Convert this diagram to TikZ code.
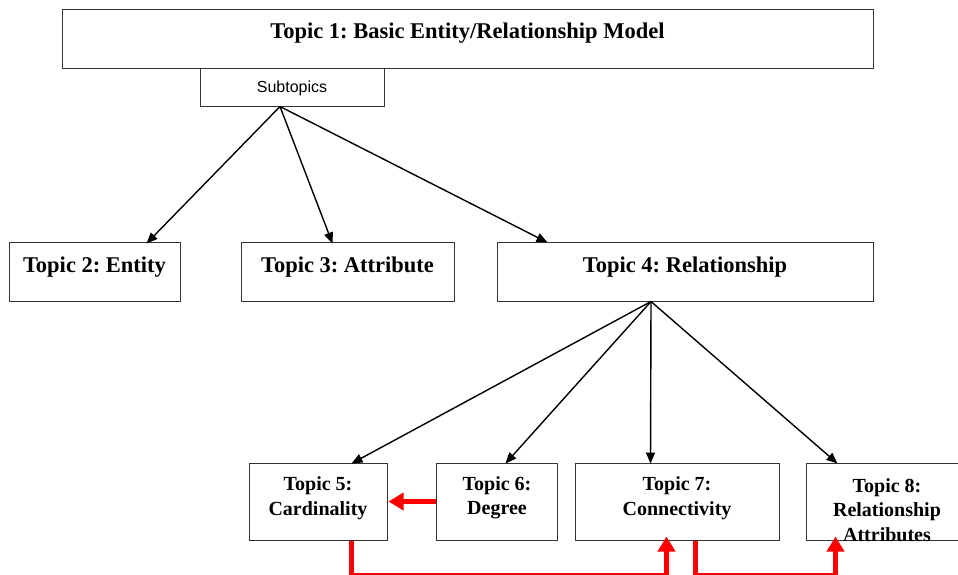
\documentclass[tikz,border=0pt]{standalone}
\usepackage{fontspec}
\setmainfont{Liberation Serif}
\setsansfont{Liberation Sans}
\usetikzlibrary{arrows.meta}
\frenchspacing
\begin{document}
\begin{tikzpicture}[x=1pt,y=-1pt,
  box/.style={draw=black!80,line width=1pt,rectangle,inner sep=0pt},
  big/.style={font=\fontsize{22.5}{26}\selectfont\bfseries,inner sep=0pt,align=center},
  small/.style={font=\fontsize{20}{24.5}\selectfont\bfseries,inner sep=0pt,align=center},
  link/.style={line width=1.4pt,-{Triangle[length=11pt,width=9pt]}},
  redlink/.style={draw=red,line width=5pt,-{Triangle[length=15pt,width=17pt]}}]
\useasboundingbox (0,0) rectangle (958,574);
\fill[white] (0,0) rectangle (958,574);

% boxes
\node[box,minimum width=811pt,minimum height=59pt] (t1) at (467.5,38.5) {};
\node[box,minimum width=184pt,minimum height=38pt,fill=white] (sub) at (292,87) {};
\node[box,minimum width=171pt,minimum height=59pt] (t2) at (94.5,271.5) {};
\node[box,minimum width=213pt,minimum height=59pt] (t3) at (347.5,271.5) {};
\node[box,minimum width=376pt,minimum height=59pt] (t4) at (685,271.5) {};
\node[box,minimum width=138pt,minimum height=77pt] (t5) at (318,501.5) {};
\node[box,minimum width=121pt,minimum height=77pt] (t6) at (496.5,501.5) {};
\node[box,minimum width=204pt,minimum height=77pt] (t7) at (677,501.5) {};
\node[box,minimum width=162pt,minimum height=77pt] (t8) at (887,501.5) {};

% labels
\node[big] (t1txt) at (467.5,33.5) {Topic 1: Basic Entity/Relationship Model};
\node[font=\sffamily\fontsize{16}{19}\selectfont,inner sep=0pt] (subtxt) at (292,88) {Subtopics};
\node[big] (t2txt) at (94.5,267) {Topic 2: Entity};
\node[big] (t3txt) at (347.5,267) {Topic 3: Attribute};
\node[big] (t4txt) at (685,267) {Topic 4: Relationship};
\node[small] (t5txt) at (318,498) {Topic 5:\\Cardinality};
\node[small] (t6txt) at (497,498) {Topic 6:\\Degree};
\node[small] (t7txt) at (677,498) {Topic 7:\\Connectivity};
\node[small] (t8txt) at (887,510) {Topic 8:\\Relationship\\Attributes};

% hierarchy arrows
\draw[link] ([xshift=-12pt]sub.south) -- ([xshift=52pt,yshift=-2pt]t2.north);
\draw[link] ([xshift=-12pt]sub.south) -- ([xshift=-15pt,yshift=-2pt]t3.north);
\draw[link] ([xshift=-12pt]sub.south) -- ([xshift=51pt,yshift=-1pt]t4.north west);
\draw[link] ([xshift=-34pt]t4.south) -- ([xshift=103pt,yshift=-1pt]t5.north west);
\draw[link] ([xshift=-34pt]t4.south) -- ([xshift=70pt,yshift=-1pt]t6.north west);
\draw[link] ([xshift=-34pt]t4.south) -- ([xshift=76pt,yshift=-1pt]t7.north west);
\draw[link] ([xshift=-34pt]t4.south) -- ([xshift=32pt,yshift=-1pt]t8.north west);

% dependency arrows along the bottom rail
\coordinate (rail) at (0,575);
\coordinate (a5) at ([xshift=103pt]t5.south west);
\coordinate (b7) at ([xshift=92pt,yshift=4pt]t7.south west);
\coordinate (a7) at ([xshift=121pt]t7.south west);
\coordinate (b8) at ([xshift=30pt,yshift=4pt]t8.south west);
\draw[redlink] (t6.west) -- ([xshift=1pt]t5.east);
\draw[redlink] (a5) -- (a5 |- rail) -| (b7);
\draw[redlink] (a7) -- (a7 |- rail) -| (b8);
\end{tikzpicture}
\end{document}
